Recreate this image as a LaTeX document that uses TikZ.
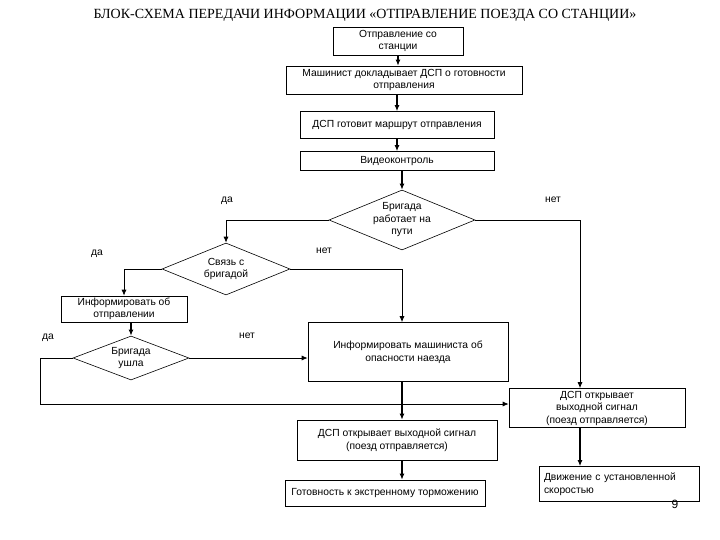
\documentclass[tikz,border=0pt]{standalone}
\usepackage{fontspec}
\setmainfont{Liberation Sans}
\newfontfamily\titlefont{Liberation Serif}
\usepackage{tikz}
\usetikzlibrary{shapes.geometric}
\usetikzlibrary{arrows.meta}

\newcommand{\txt}{\fontsize{10.3}{12.5}\selectfont}

\tikzset{
  blok/.style={draw, line width=0.6pt, font=\txt, align=center, inner sep=1pt},
  romb/.style={draw, diamond, line width=0.6pt, font=\txt, align=center, inner sep=0pt},
  strelka/.style={-{Latex[length=6pt, width=5pt]}, line width=1.3pt},
  liniya/.style={-{Latex[length=6pt, width=5pt]}, line width=0.8pt},
  metka/.style={font=\txt}
}

\begin{document}
\begin{tikzpicture}[x=1pt, y=-1pt]
        \useasboundingbox (0, 0) rectangle (720, 540);

        \node[font=\titlefont\fontsize{14}{16}\selectfont] (titul) at (365, 15)
            {БЛОК-СХЕМА ПЕРЕДАЧИ ИНФОРМАЦИИ «ОТПРАВЛЕНИЕ ПОЕЗДА СО СТАНЦИИ»};

        % main column
        \node[blok, minimum width=130, minimum height=28] (b1) at (398, 41)
            {Отправление со\\станции};
        \node[blok, minimum width=236, minimum height=28] (b2) at (404, 80)
            {Машинист докладывает ДСП о готовности\\отправления};
        \node[blok, minimum width=194, minimum height=27] (b3) at (397, 125)
            {ДСП готовит маршрут отправления};
        \node[blok, minimum width=194, minimum height=19] (b4) at (397, 161)
            {Видеоконтроль};
        \node[romb, aspect=2.4, minimum width=146, minimum height=60] (d1) at (402, 220)
            {Бригада\\работает на\\пути};

        % left branch
        \node[romb, aspect=2.45, minimum width=128, minimum height=52] (d2) at (226, 269)
            {Связь с\\бригадой};
        \node[blok, minimum width=126, minimum height=26] (b5) at (124, 309)
            {Информировать об\\отправлении};
        \node[romb, aspect=2.65, minimum width=116, minimum height=44] (d3) at (131, 358)
            {Бригада\\ушла};

        \node[blok, minimum width=200, minimum height=59] (b6) at (408, 352)
            {Информировать машиниста об\\опасности наезда};
        \node[blok, minimum width=200, minimum height=40] (b8) at (397, 440)
            {ДСП открывает выходной сигнал\\(поезд отправляется)};
        \node[blok, minimum width=200, minimum height=26] (b10) at (385, 493)
            {Готовность к экстренному торможению};

        % right branch
        \node[blok, minimum width=176, minimum height=39] (b7) at (597, 408)
            {ДСП открывает\\выходной сигнал\\(поезд отправляется)};
        \node[blok, minimum width=160, minimum height=35, text width=150, align=left] (b9) at (619, 484)
            {Движение с установленной\\скоростью};
        \node[font=\fontsize{12}{14}\selectfont] (nomer) at (675, 504) {9};

        % labels
        \node[metka] (da1) at (227, 201) {да};
        \node[metka] (net1) at (553, 200) {нет};
        \node[metka] (da2) at (97, 254) {да};
        \node[metka] (net2) at (324, 251) {нет};
        \node[metka] (da3) at (48, 338) {да};
        \node[metka] (net3) at (247, 336) {нет};

        \coordinate (r1) at (580, 220);
        \coordinate (l1) at (40, 358);
        \coordinate (l2) at (40, 404);

        % connectors
        \draw[strelka] (b1.south |- b1.south) -- (b1.south |- b2.north);
        \draw[strelka] (b3.north |- b2.south) -- (b3.north);
        \draw[strelka] (b3.south) -- (b4.north);
        \draw[strelka] (b4.south -| d1.north) -- (d1.north);
        \draw[liniya] (d1.west) -| (d2.north);
        \draw[liniya] (d1.east) -- (r1) -- (r1 |- b7.north);
        \draw[liniya] (d2.west) -| (b5.north);
        \draw[liniya] (d2.east) -| (d1.north |- b6.north);
        \draw[strelka] (d3.north |- b5.south) -- (d3.north);
        \draw[liniya] (d3.east) -- (d3.east -| b6.west);
        \draw[liniya] (d3.west) -- (l1) -- (l2) -- (l2 -| b7.west);
        \draw[strelka] (d1.south |- b6.south) -- (d1.south |- b8.north);
        \draw[strelka] (d1.south |- b8.south) -- (d1.south |- b10.north);
        \draw[strelka] (r1 |- b7.south) -- (r1 |- b9.north);
    \end{tikzpicture}
\end{document}
